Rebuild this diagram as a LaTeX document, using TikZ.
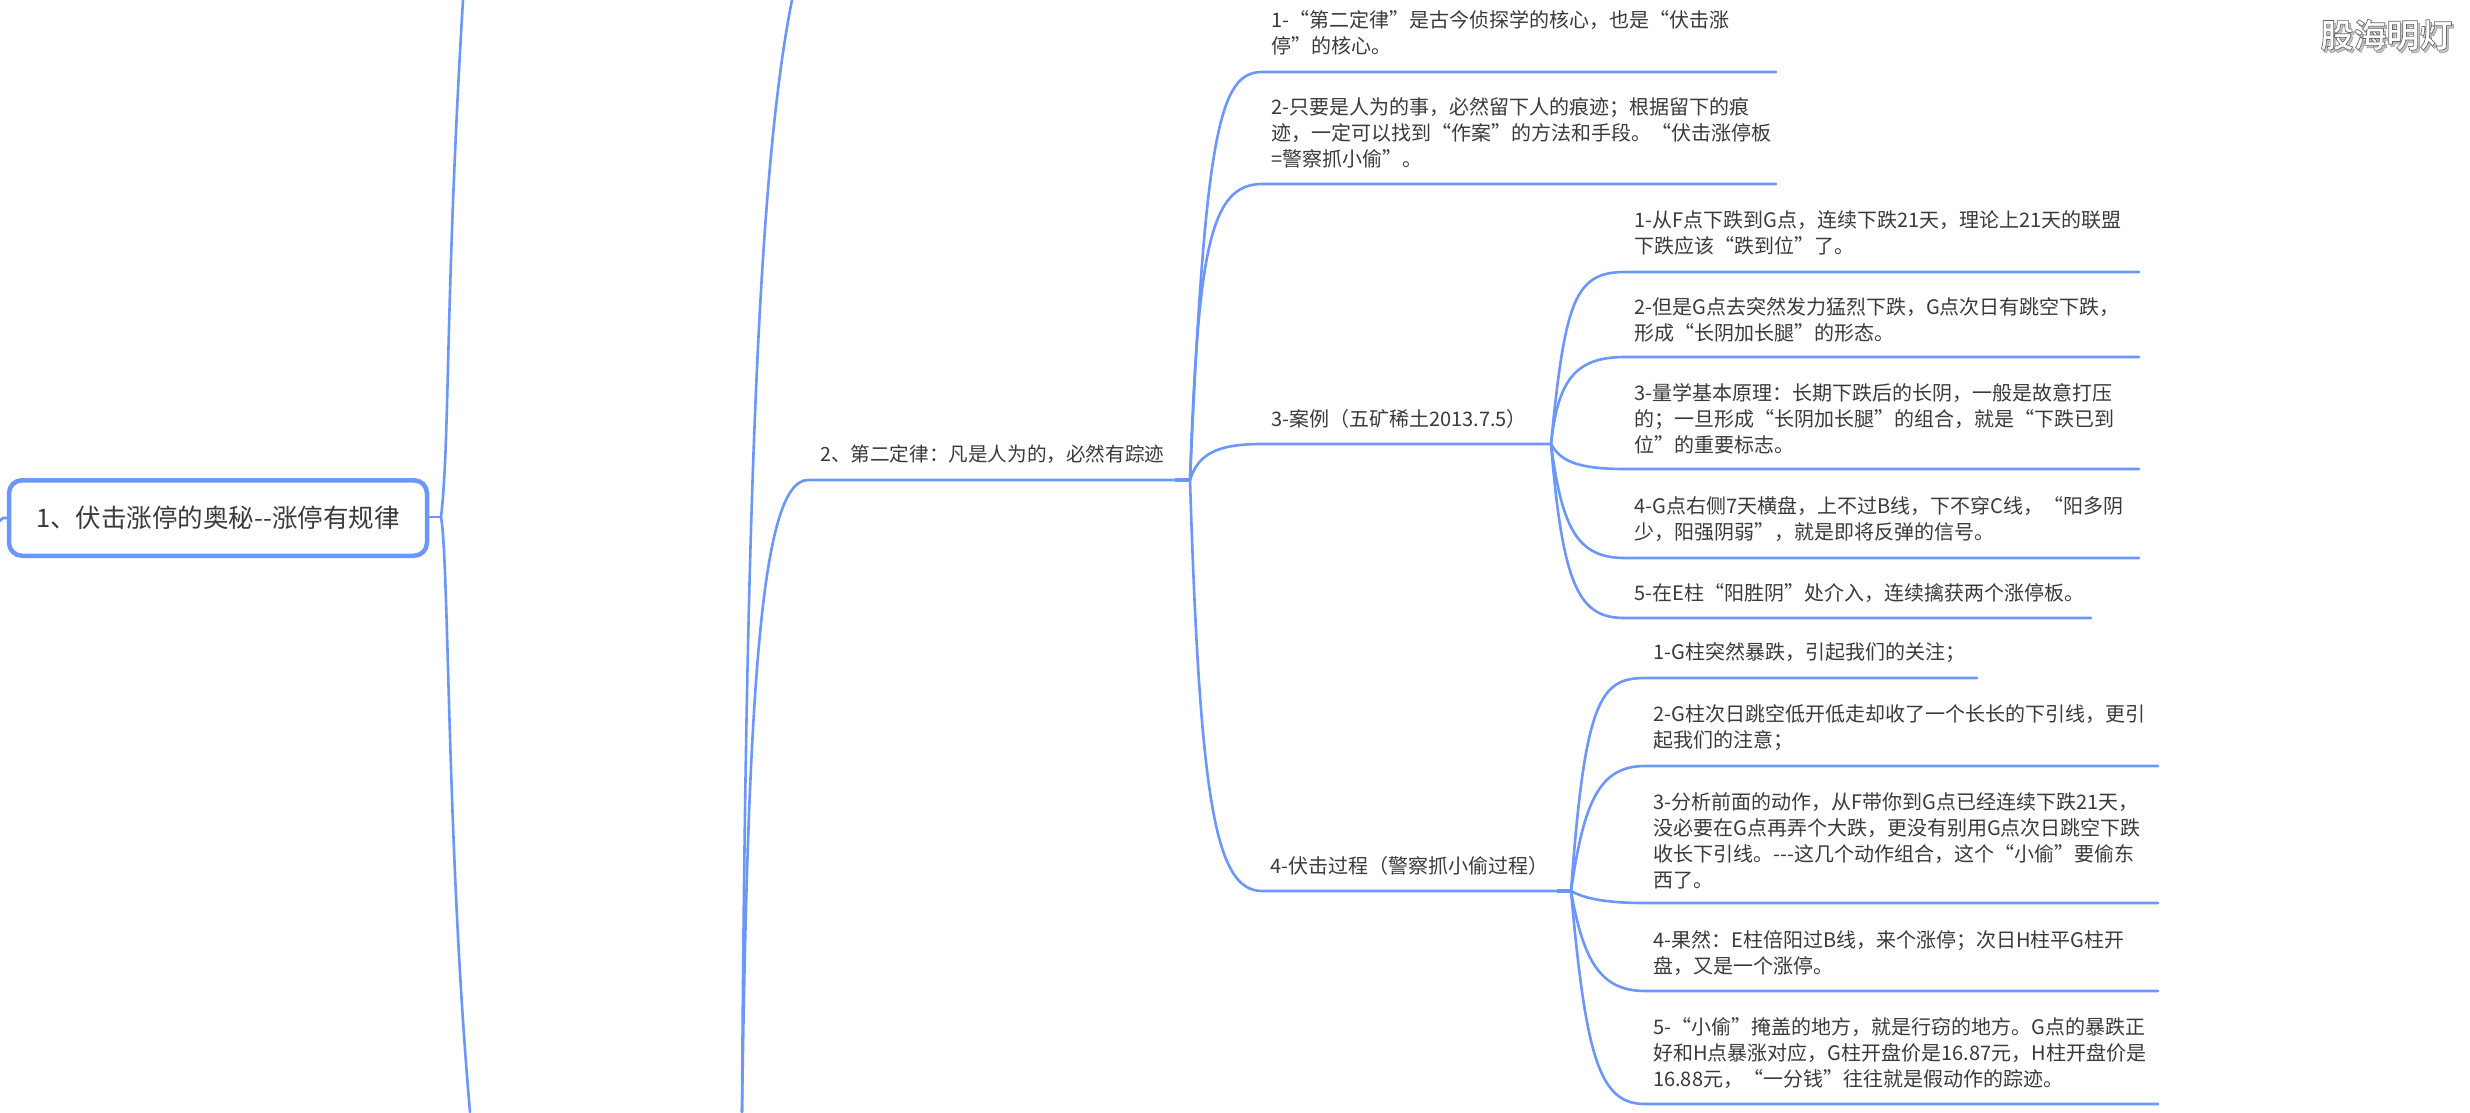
\documentclass[tikz,border=0pt]{standalone}
\usepackage{fontspec}
\setmainfont{Noto Sans CJK SC}
\newfontface\wmfont{Noto Sans CJK SC Bold}[FakeBold=2]
\newfontface\wmshadowfont{Noto Sans CJK SC Bold}[FakeBold=2.5]
\definecolor{linkblue}{HTML}{6C97FA}
\definecolor{inktext}{HTML}{3A3A3A}
\tikzset{
  link/.style={draw=linkblue,line width=2.6pt,line cap=round},
  linkthick/.style={draw=linkblue,line width=3.8pt},
  rootbox/.style={draw=linkblue,line width=4.5pt,rounded corners=13pt,fill=white,minimum width=418pt,minimum height=75.5pt,inner sep=0pt,text=inktext,font=\fontsize{25.5}{30}\selectfont},
  topic/.style={anchor=west,align=left,inner sep=0pt,text=inktext,font=\fontsize{20}{26}\selectfont},
  wmshadow/.style={inner sep=0pt,text=black,font=\wmshadowfont\fontsize{33}{38}\selectfont},
  wmtext/.style={inner sep=0pt,text=white,font=\wmfont\fontsize{33}{38}\selectfont},
}
\begin{document}
\begin{tikzpicture}[x=1pt,y=-1pt]
\useasboundingbox (0,0) rectangle (2470,1112);
\fill[white] (0,0) rectangle (2470,1112);
% junctions and free ends
\coordinate (rj) at (441,517);
\coordinate (stub) at (0,521);
\coordinate (rtop) at (463,0);
\coordinate (rbot) at (470,1112);
\coordinate (ltop) at (792,0);
\coordinate (lbot) at (742,1112);
\coordinate (u0s) at (808,480);
\coordinate (j0) at (1190,480);
\coordinate (j0t) at (1175,480);
\coordinate (u1s) at (1262,72);  \coordinate (u1e) at (1776,72);
\coordinate (u2s) at (1262,184); \coordinate (u2e) at (1776,184);
\coordinate (u3s) at (1262,444); \coordinate (j3) at (1551,444);
\coordinate (u4s) at (1262,891); \coordinate (j4) at (1571,891); \coordinate (j4t) at (1557,891);
\coordinate (a1s) at (1625,272); \coordinate (a1e) at (2139,272);
\coordinate (a2s) at (1625,357); \coordinate (a2e) at (2139,357);
\coordinate (a3s) at (1625,469); \coordinate (a3e) at (2139,469);
\coordinate (a4s) at (1625,558); \coordinate (a4e) at (2139,558);
\coordinate (a5s) at (1625,618); \coordinate (a5e) at (2091,618);
\coordinate (b1s) at (1645,678);  \coordinate (b1e) at (1977,678);
\coordinate (b2s) at (1645,766);  \coordinate (b2e) at (2158,766);
\coordinate (b3s) at (1645,903);  \coordinate (b3e) at (2158,903);
\coordinate (b4s) at (1645,991);  \coordinate (b4e) at (2158,991);
\coordinate (b5s) at (1645,1104); \coordinate (b5e) at (2158,1104);
% level 1 connectors
\draw[link] (rj) .. controls (450,440) and (445,300) .. (rtop);
\draw[link] (rj) .. controls (449,560) and (447,850) .. (rbot);
\draw[link] (lbot) .. controls (746,480) and (760,160) .. (ltop);
\draw[link] (lbot) .. controls (748,700) and (760,480) .. (u0s) -- (j0);
\draw[linkthick] (j0t) -- (j0);
% level 2 branches
\draw[link] (j0) .. controls (1205,130) and (1220,72) .. (u1s) -- (u1e);
\draw[link] (j0) .. controls (1198,250) and (1210,184) .. (u2s) -- (u2e);
\draw[link] (j0) .. controls (1198,455) and (1215,444) .. (u3s) -- (j3);
\draw[link] (j0) .. controls (1200,800) and (1215,891) .. (u4s) -- (j4);
\draw[linkthick] (j4t) -- (j4);
% level 3 branches of 3
\draw[link] (j3) .. controls (1565,300) and (1575,272) .. (a1s) -- (a1e);
\draw[link] (j3) .. controls (1558,380) and (1575,357) .. (a2s) -- (a2e);
\draw[link] (j3) .. controls (1560,460) and (1575,469) .. (a3s) -- (a3e);
\draw[link] (j3) .. controls (1562,530) and (1578,558) .. (a4s) -- (a4e);
\draw[link] (j3) .. controls (1563,590) and (1580,618) .. (a5s) -- (a5e);
% level 3 branches of 4
\draw[link] (j4) .. controls (1585,700) and (1600,678) .. (b1s) -- (b1e);
\draw[link] (j4) .. controls (1584,800) and (1600,766) .. (b2s) -- (b2e);
\draw[link] (j4) .. controls (1582,897) and (1600,903) .. (b3s) -- (b3e);
\draw[link] (j4) .. controls (1583,960) and (1600,991) .. (b4s) -- (b4e);
\draw[link] (j4) .. controls (1586,1060) and (1600,1104) .. (b5s) -- (b5e);
% root
\node[rootbox] (root) at (218,518) {1、伏击涨停的奥秘-\kern0pt-涨停有规律};
\draw[link] (stub) .. controls (2,518) and (4,517) .. (root.west);
\draw[link] (root.east |- rj) -- (rj);
% texts
\node[topic,font=\fontsize{19.6}{26}\selectfont] (t0) at (820,454) {2、第二定律：凡是人为的，必然有踪迹};
\node[topic] (t1) at (1271,33) {1-“第二定律”是古今侦探学的核心，也是“伏击涨\\停”的核心。};
\node[topic] (t2) at (1271,133) {2-只要是人为的事，必然留下人的痕迹；根据留下的痕\\迹，一定可以找到“作案”的方法和手段。“伏击涨停板\\=警察抓小偷”。};
\node[topic] (t3) at (1271,419) {3-案例（五矿稀土2013.7.5）};
\node[topic] (t4) at (1270,866) {4-伏击过程（警察抓小偷过程）};
\node[topic] (a1) at (1634,233) {1-从F点下跌到G点，连续下跌21天，理论上21天的联盟\\下跌应该“跌到位”了。};
\node[topic] (a2) at (1634,320) {2-但是G点去突然发力猛烈下跌，G点次日有跳空下跌，\\形成“长阴加长腿”的形态。};
\node[topic] (a3) at (1634,419) {3-量学基本原理：长期下跌后的长阴，一般是故意打压\\的；一旦形成“长阴加长腿”的组合，就是“下跌已到\\位”的重要标志。};
\node[topic] (a4) at (1634,519) {4-G点右侧7天横盘，上不过B线，下不穿C线，“阳多阴\\少，阳强阴弱”，就是即将反弹的信号。};
\node[topic] (a5) at (1634,593) {5-在E柱“阳胜阴”处介入，连续擒获两个涨停板。};
\node[topic] (b1) at (1653,653) {1-G柱突然暴跌，引起我们的关注；};
\node[topic] (b2) at (1653,728) {2-G柱次日跳空低开低走却收了一个长长的下引线，更引\\起我们的注意；};
\node[topic] (b3) at (1653,841) {3-分析前面的动作，从F带你到G点已经连续下跌21天，\\没必要在G点再弄个大跌，更没有别用G点次日跳空下跌\\收长下引线。-\kern0pt-\kern0pt-这几个动作组合，这个“小偷”要偷东\\西了。};
\node[topic] (b4) at (1653,953) {4-果然：E柱倍阳过B线，来个涨停；次日H柱平G柱开\\盘，又是一个涨停。};
\node[topic] (b5) at (1653,1053) {5-“小偷”掩盖的地方，就是行窃的地方。G点的暴跌正\\好和H点暴涨对应，G柱开盘价是16.87元，H柱开盘价是\\16.88元，“一分钱”往往就是假动作的踪迹。};
% watermark
\node[wmshadow,opacity=0.22] (wms) at (2388.5,37.5) {股海明灯};
\node[wmtext] (wm) at (2386.5,35) {\special{pdf:code 0.4 G}股海明灯};
\end{tikzpicture}
\end{document}
